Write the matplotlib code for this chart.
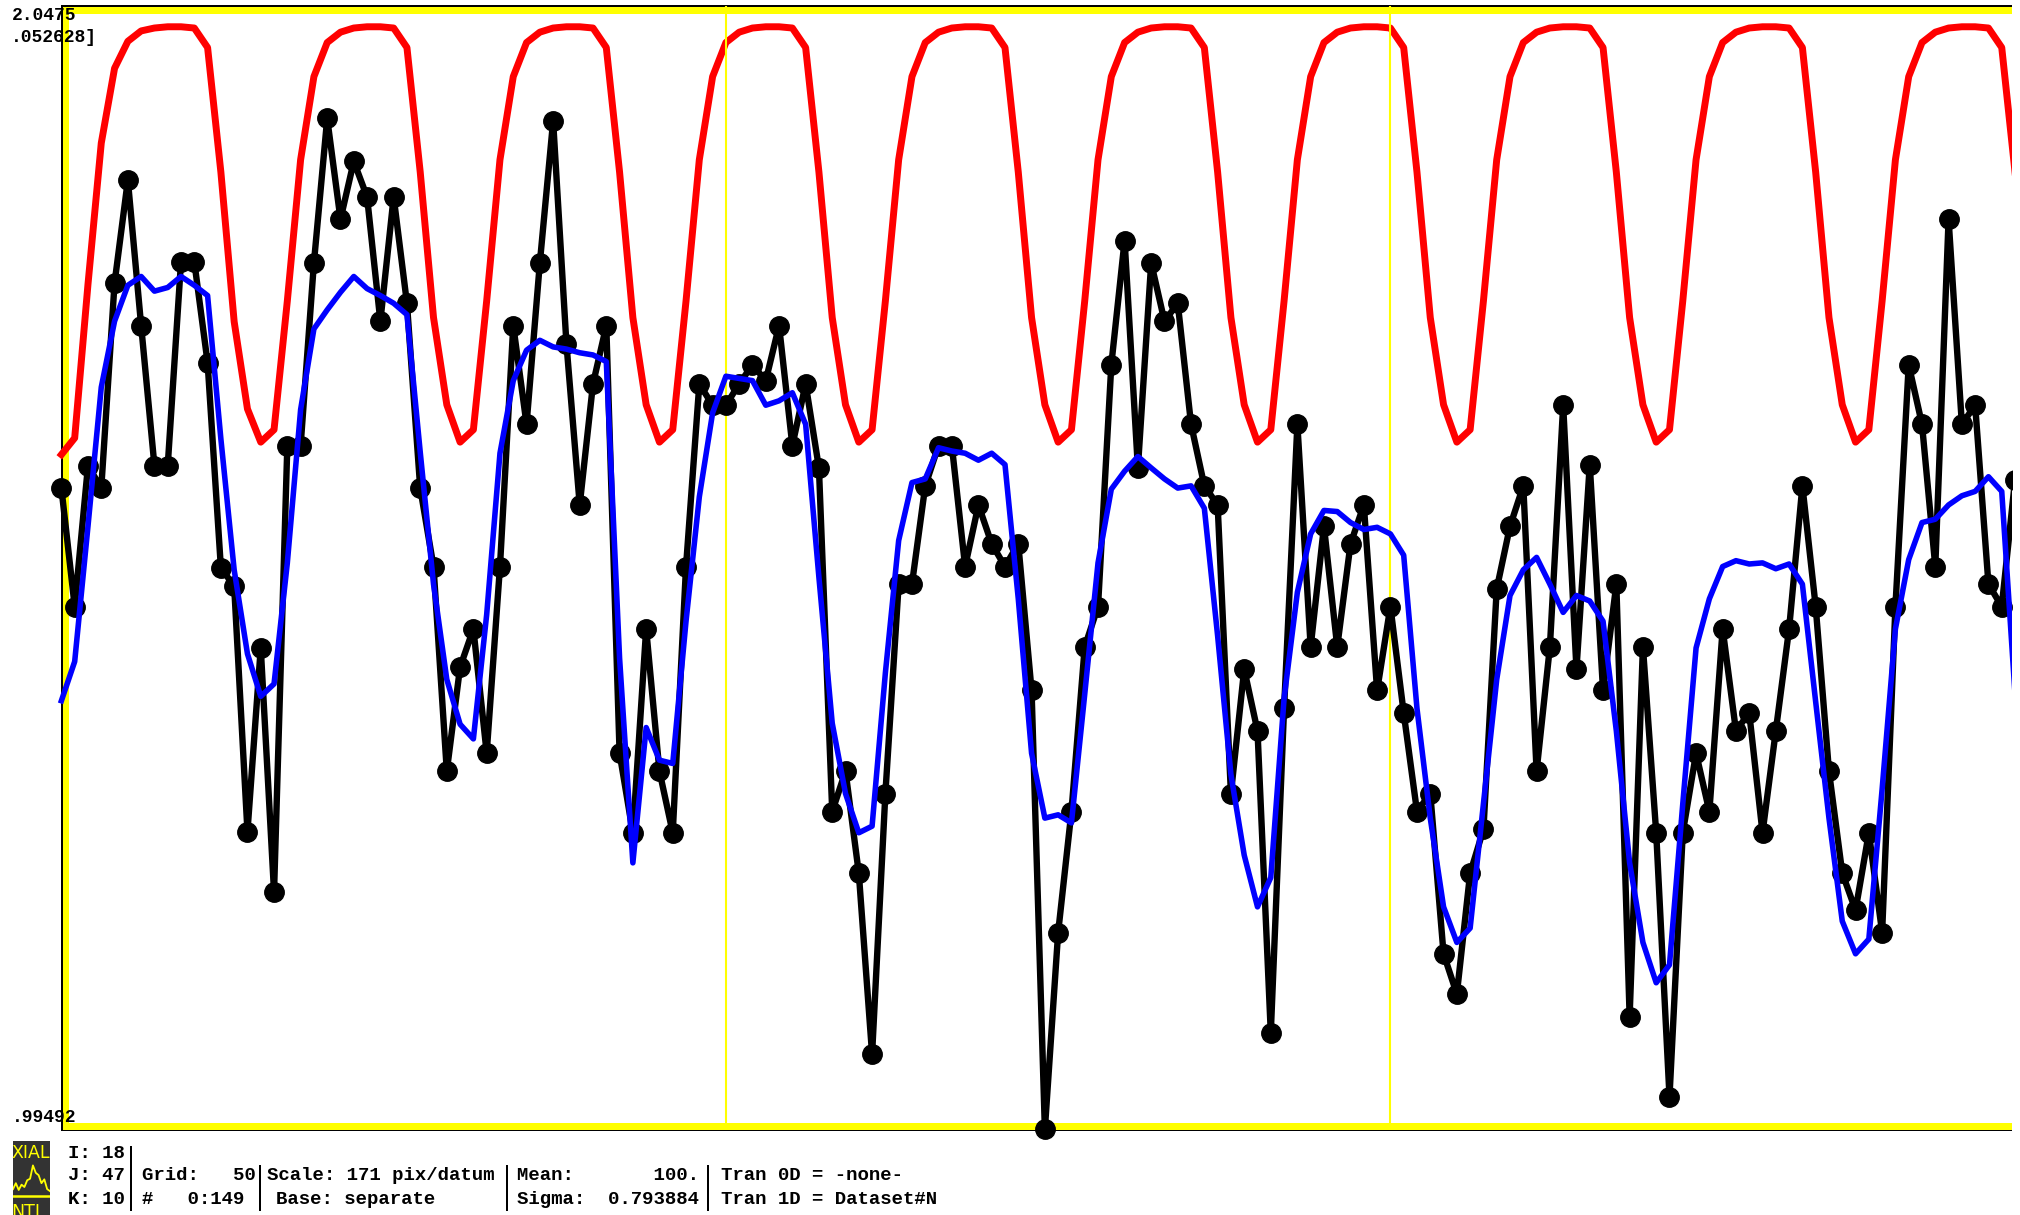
import numpy as np
import matplotlib
matplotlib.use("Agg")
import matplotlib.pyplot as plt
from matplotlib.patches import Rectangle

# ---------------- data (time index 0..147 visible) ----------------
black_data = [
    100.744, 100.421, 100.805, 100.744, 101.303, 101.584, 101.187, 100.805, 100.805, 101.361,
    101.361, 101.086, 100.527, 100.476, 99.807, 100.308, 99.642, 100.860, 100.860, 101.358,
    101.752, 101.477, 101.635, 101.538, 101.199, 101.538, 101.248, 100.744, 100.530, 99.972,
    100.256, 100.360, 100.021, 100.530, 101.187, 100.918, 101.358, 101.745, 101.138, 100.698,
    101.028, 101.187, 100.021, 99.804, 100.360, 99.972, 99.804, 100.530, 101.028, 100.970,
    100.970, 101.028, 101.080, 101.037, 101.187, 100.860, 101.028, 100.799, 99.862, 99.972,
    99.694, 99.200, 99.911, 100.482, 100.482, 100.750, 100.860, 100.860, 100.530, 100.698,
    100.592, 100.530, 100.592, 100.192, 98.995, 99.532, 99.862, 100.311, 100.421, 101.080,
    101.419, 100.799, 101.358, 101.199, 101.248, 100.918, 100.750, 100.698, 99.911, 100.250,
    100.082, 99.258, 100.143, 100.918, 100.311, 100.640, 100.311, 100.592, 100.698, 100.192,
    100.421, 100.131, 99.862, 99.911, 99.474, 99.364, 99.694, 99.813, 100.469, 100.640,
    100.750, 99.972, 100.311, 100.970, 100.250, 100.808, 100.192, 100.482, 99.303, 100.311,
    99.804, 99.084, 99.804, 100.021, 99.862, 100.360, 100.082, 100.131, 99.804, 100.082,
    100.360, 100.750, 100.421, 99.972, 99.694, 99.593, 99.804, 99.532, 100.421, 101.080,
    100.918, 100.530, 101.477, 100.918, 100.970, 100.482, 100.421, 100.766,
]

fit_data = [
    100.164, 100.271, 100.640, 101.019, 101.199, 101.297, 101.321, 101.281, 101.291, 101.321,
    101.297, 101.269, 100.878, 100.521, 100.292, 100.176, 100.210, 100.540, 100.958, 101.178,
    101.230, 101.278, 101.321, 101.288, 101.269, 101.248, 101.217, 100.842, 100.482, 100.222,
    100.100, 100.060, 100.399, 100.839, 101.037, 101.120, 101.147, 101.129, 101.123, 101.113,
    101.107, 101.089, 100.280, 99.722, 100.091, 100.002, 99.993, 100.381, 100.720, 100.949,
    101.049, 101.043, 101.037, 100.970, 100.982, 101.004, 100.918, 100.500, 100.103, 99.911,
    99.804, 99.822, 100.240, 100.601, 100.759, 100.769, 100.854, 100.845, 100.839, 100.820,
    100.839, 100.808, 100.442, 100.021, 99.844, 99.853, 99.831, 100.182, 100.540, 100.741,
    100.790, 100.830, 100.799, 100.769, 100.744, 100.750, 100.689, 100.341, 99.963, 99.743,
    99.602, 99.682, 100.170, 100.460, 100.619, 100.683, 100.680, 100.650, 100.631, 100.637,
    100.619, 100.561, 100.143, 99.844, 99.602, 99.505, 99.544, 99.883, 100.222, 100.451,
    100.521, 100.555, 100.482, 100.405, 100.451, 100.436, 100.381, 100.082, 99.722, 99.505,
    99.395, 99.444, 99.883, 100.308, 100.442, 100.530, 100.546, 100.537, 100.540, 100.524,
    100.537, 100.482, 100.161, 99.844, 99.563, 99.474, 99.514, 99.923, 100.360, 100.549,
    100.650, 100.659, 100.698, 100.723, 100.735, 100.775, 100.735, 100.182,
]

ideal_ref = [
    -0.03, 0.01, 0.38, 0.72, 0.90, 0.965, 0.99, 0.997, 1.00, 1.00, 0.997, 0.95, 0.65, 0.29, 0.08,
    0.00, 0.03, 0.34, 0.68, 0.88, 0.962, 0.987, 0.997, 1.00, 1.00, 0.997, 0.95, 0.65, 0.30, 0.09,
    0.00, 0.03, 0.34, 0.68, 0.88, 0.962, 0.987, 0.997, 1.00, 1.00, 0.997, 0.95, 0.65, 0.30, 0.09,
    0.00, 0.03, 0.34, 0.68, 0.88, 0.962, 0.987, 0.997, 1.00, 1.00, 0.997, 0.95, 0.65, 0.30, 0.09,
    0.00, 0.03, 0.34, 0.68, 0.88, 0.962, 0.987, 0.997, 1.00, 1.00, 0.997, 0.95, 0.65, 0.30, 0.09,
    0.00, 0.03, 0.34, 0.68, 0.88, 0.962, 0.987, 0.997, 1.00, 1.00, 0.997, 0.95, 0.65, 0.30, 0.09,
    0.00, 0.03, 0.34, 0.68, 0.88, 0.962, 0.987, 0.997, 1.00, 1.00, 0.997, 0.95, 0.65, 0.30, 0.09,
    0.00, 0.03, 0.34, 0.68, 0.88, 0.962, 0.987, 0.997, 1.00, 1.00, 0.997, 0.95, 0.65, 0.30, 0.09,
    0.00, 0.03, 0.34, 0.68, 0.88, 0.962, 0.987, 0.997, 1.00, 1.00, 0.997, 0.95, 0.65, 0.30, 0.09,
    0.00, 0.03, 0.34, 0.68, 0.88, 0.962, 0.987, 0.997, 1.00, 1.00, 0.997, 0.95, 0.65,
]

grid_marks = [50, 100]
y_top_label = "2.0475"
y_scale_label = ".052628]"
y_bot_label = ".99492"

status_lines = [
    ("I: 18", 68, 1154), ("J: 47", 68, 1176), ("K: 10", 68, 1199),
    ("Grid:   50", 142, 1176), ("#   0:149", 142, 1199),
    ("Scale: 171 pix/datum", 267, 1176), ("Base: separate", 276, 1199),
    ("Mean:       100.", 517, 1176), ("Sigma:  0.793884", 517, 1199),
    ("Tran 0D = -none-", 721, 1176), ("Tran 1D = Dataset#N", 721, 1199),
]
icon_wave = [0.15, 0.35, 0.12, 0.30, 0.22, 0.45, 0.50, 0.95, 0.70, 0.62, 0.35, 0.48, 0.15, 0.08]

# ---------------- figure ----------------
W, H = 2020, 1215
fig = plt.figure(figsize=(W / 100, H / 100), dpi=100)
fig.patch.set_facecolor("white")

def fxy(px, py):
    return px / W, 1 - py / H

def prect(x0, y0, x1, y1, color, z=-1):
    fig.add_artist(Rectangle((x0 / W, 1 - y1 / H), (x1 - x0) / W, (y1 - y0) / H,
                             transform=fig.transFigure, facecolor=color,
                             edgecolor="none", zorder=z))

# plot frame (black outer line + yellow inner band), right side open
prect(61, 5, 2012, 6.8, "black")
prect(61, 6.8, 2012, 13.5, "#ffff00")
prect(61, 1123, 2012, 1129.5, "#ffff00")
prect(61, 1129.5, 2012, 1131.3, "black")
prect(60.5, 5, 62.5, 1131.3, "black")
prect(62.5, 6.8, 68.5, 1129.5, "#ffff00")

x0px, x1px, y0px, y1px = 61.4, 2012, 6, 1130
ax = fig.add_axes([x0px / W, 1 - y1px / H, (x1px - x0px) / W, (y1px - y0px) / H])
ax.patch.set_visible(False)
for s in ax.spines.values():
    s.set_visible(False)
ax.set_xticks([])
ax.set_yticks([])
xmax = (x1px - x0px) / 13.29
ax.set_xlim(0, xmax)
ax.set_ylim(98.9935, 102.0586)

ax2 = ax.twinx()
ax2.patch.set_visible(False)
ax2.set_axis_off()
ax2.set_ylim(-1.656, 1.050)
ax2.set_zorder(ax.get_zorder() - 0.5)

clip_rect = Rectangle((0, 0), x1px / W, 1, transform=fig.transFigure)

for g in grid_marks:
    ax.axvline(g, color="#ffff00", lw=1.5, zorder=0.5)

t = np.arange(len(black_data))
l1, = ax.plot(t, black_data, color="black", lw=4.6, marker="o", ms=14,
              mfc="black", mec="black", zorder=2)
l2, = ax.plot(np.arange(len(fit_data)), fit_data, color="#0000ff", lw=4.0, zorder=3)
l3, = ax2.plot(np.arange(len(ideal_ref)), ideal_ref, color="#ff0000", lw=5.0, zorder=2)
for ln in (l1, l2, l3):
    ln.set_clip_path(clip_rect)

# corner labels
mono = dict(family="Liberation Mono", weight="bold", color="black", zorder=6)
x, y = fxy(76, 15)
fig.text(x, y, y_top_label, ha="right", va="center", fontsize=13, **mono)
x, y = fxy(11, 38)
fig.text(x, y, y_scale_label, ha="left", va="center", fontsize=13, **mono)
x, y = fxy(76, 1118)
fig.text(x, y, y_bot_label, ha="right", va="center", fontsize=13, **mono)

# status bar
for txt, px, py in status_lines:
    x, y = fxy(px, py)
    fig.text(x, y, txt, ha="left", va="center", fontsize=13.7, **mono)

for sx, sy0, sy1 in [(131, 1146, 1211), (260, 1165, 1211), (507, 1165, 1211), (708, 1165, 1211)]:
    prect(sx - 1, sy0, sx + 1, sy1, "black", z=5)

# icon
iax = fig.add_axes([13 / W, 1 - 1215 / H, 37 / W, 74 / H])
iax.set_facecolor("#333333")
iax.set_xlim(0, 1)
iax.set_ylim(0, 1)
iax.set_xticks([])
iax.set_yticks([])
for s in iax.spines.values():
    s.set_visible(False)
iax.text(-0.05, 0.84, "XIAL", color="#ffff00", fontsize=12.5, family="Liberation Sans Narrow",
         ha="left", va="center", transform=iax.transAxes)
wx = np.linspace(0.0, 1.0, len(icon_wave))
iax.plot(wx, [0.29 + 0.4 * v for v in icon_wave], color="#ffff00", lw=1.3)
iax.axhline(0.255, color="#ffff00", lw=1.8)
iax.text(-0.05, 0.04, "NTL", color="#ffff00", fontsize=12.5, family="Liberation Sans Narrow",
         ha="left", va="center", transform=iax.transAxes)

fig.savefig("out.png", dpi=100, facecolor="white")
